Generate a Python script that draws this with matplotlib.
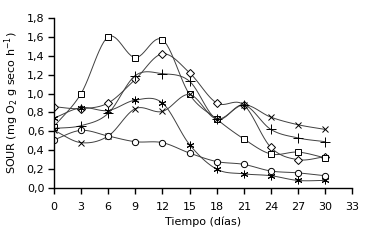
import numpy as np
import matplotlib.pyplot as plt
from matplotlib.ticker import FuncFormatter

# === Datos ===
dias = [0, 3, 6, 9, 12, 15, 18, 21, 24, 27, 30]

sour_cuadrado = [0.65, 1.00, 1.60, 1.38, 1.57, 0.99, 0.73, 0.52, 0.36, 0.38, 0.32]
sour_rombo = [0.86, 0.84, 0.90, 1.15, 1.42, 1.22, 0.90, 0.88, 0.43, 0.30, 0.33]
sour_mas = [0.63, 0.66, 0.79, 1.19, 1.21, 1.13, 0.73, 0.88, 0.62, 0.53, 0.49]
sour_aspa = [0.61, 0.48, 0.55, 0.84, 0.81, 0.99, 0.73, 0.88, 0.75, 0.67, 0.62]
sour_asterisco = [0.74, 0.85, 0.82, 0.93, 0.90, 0.46, 0.20, 0.15, 0.13, 0.08, 0.08]
sour_circulo = [0.51, 0.61, 0.55, 0.49, 0.48, 0.37, 0.28, 0.25, 0.18, 0.16, 0.13]


def suavizar(x, y, n=12):
    # trazo suavizado tipo Excel (Catmull-Rom), solo para dibujar la línea
    x = np.asarray(x, float)
    y = np.asarray(y, float)
    px = np.concatenate([[2 * x[0] - x[1]], x, [2 * x[-1] - x[-2]]])
    py = np.concatenate([[2 * y[0] - y[1]], y, [2 * y[-1] - y[-2]]])
    xs, ys = [], []
    t = np.linspace(0, 1, n, endpoint=False)
    for i in range(1, len(px) - 2):
        for p, out in ((px, xs), (py, ys)):
            p0, p1, p2, p3 = p[i - 1], p[i], p[i + 1], p[i + 2]
            out.extend(0.5 * ((2 * p1) + (-p0 + p2) * t
                              + (2 * p0 - 5 * p1 + 4 * p2 - p3) * t ** 2
                              + (-p0 + 3 * p1 - 3 * p2 + p3) * t ** 3))
    xs.append(x[-1])
    ys.append(y[-1])
    return xs, ys


series = [
    (sour_rombo, 'D', 3.6),
    (sour_cuadrado, 's', 5.0),
    (sour_aspa, 'x', 5.0),
    (sour_asterisco, (6, 2, 0), 5.5),
    (sour_circulo, 'o', 4.5),
    (sour_mas, '+', 6.5),
]

plt.rcParams['font.family'] = 'DejaVu Sans'
fig = plt.figure(figsize=(3.75, 2.49), dpi=100)
ax = fig.add_axes([0.144, 0.245, 0.795, 0.683])

for y, m, ms in series:
    xs, ys = suavizar(dias, y)
    ax.plot(xs, ys, color='#404040', lw=0.7)
    ax.plot(dias, y, ls='none', marker=m, ms=ms, mfc='white', mec='black',
            mew=0.7, color='black')

ax.set_xlim(0, 33)
ax.set_ylim(0, 1.8)
ax.set_xticks(range(0, 34, 3))
ax.set_yticks(np.arange(0, 1.81, 0.2))
ax.yaxis.set_major_formatter(FuncFormatter(lambda v, p: f"{v:.1f}".replace('.', ',')))
for s in ['top', 'right']:
    ax.spines[s].set_visible(False)
ax.spines['left'].set_linewidth(1.0)
ax.spines['bottom'].set_linewidth(1.0)
ax.tick_params(axis='both', labelsize=8, length=4, width=1.0, direction='out')
ax.tick_params(axis='x', pad=6)
ax.tick_params(axis='y', pad=3)

ax.set_xlabel("Tiempo (días)", fontsize=8, labelpad=3)
ax.set_ylabel("SOUR (mg O$_2$ g seco h$^{-1}$)", fontsize=8, labelpad=4)

plt.savefig("out.png", dpi=100)
